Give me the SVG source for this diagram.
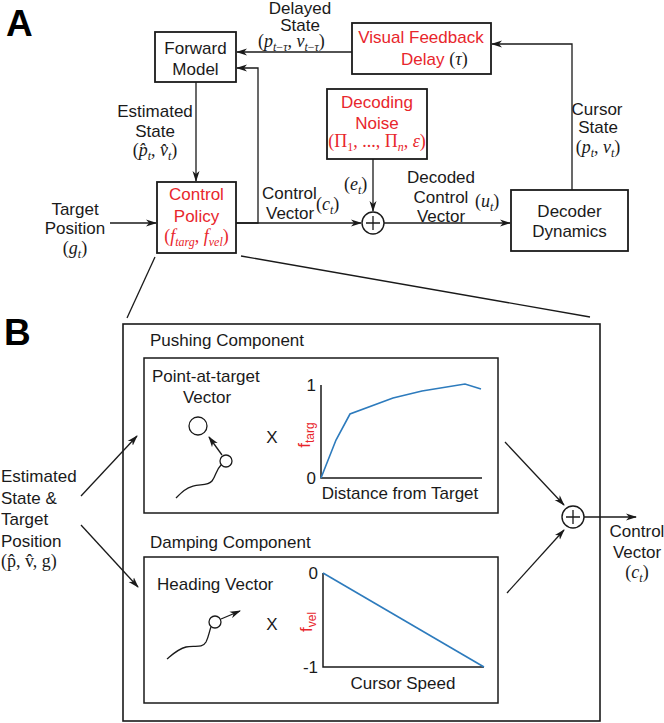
<svg xmlns="http://www.w3.org/2000/svg" width="664" height="723" viewBox="0 0 664 723">
<defs>
<style>
.t{font-family:"Liberation Sans",Arial,sans-serif;font-size:17px;fill:#1a1a1a}
.c{text-anchor:middle}
.r{fill:#e8262c}
.m{font-family:"Liberation Serif","Times New Roman",serif;font-size:18px;fill:#1a1a1a}
.i{font-style:italic}
.s{font-size:12px}
.big{font-family:"Liberation Sans",Arial,sans-serif;font-size:37px;font-weight:bold;fill:#000}
.box{fill:#fff;stroke:#1a1a1a;stroke-width:1.8}
.ln{fill:none;stroke:#1a1a1a;stroke-width:1.3}
.ax{fill:none;stroke:#1a1a1a;stroke-width:1.5}
.cv{fill:none;stroke:#2d7bbd;stroke-width:1.6}
</style>
<marker id="ah" markerWidth="11" markerHeight="8" refX="10" refY="4" orient="auto" markerUnits="userSpaceOnUse">
<path d="M0,0.5 L11,4 L0,7.5 L3,4 z" fill="#1a1a1a"/>
</marker>
</defs>
<rect width="664" height="723" fill="#fff"/>

<text class="big" x="6" y="36">A</text>
<text class="big" x="4" y="345">B</text>

<g id="connectors">
<path class="ln" d="M352,52 L237,52" marker-end="url(#ah)"/>
<path class="ln" d="M236,223 L258,223 L258,68 L237,68" marker-end="url(#ah)"/>
<path class="ln" d="M196,82 L196,181" marker-end="url(#ah)"/>
<path class="ln" d="M110,223 L156,223" marker-end="url(#ah)"/>
<path class="ln" d="M236,223 L361,223" marker-end="url(#ah)"/>
<path class="ln" d="M373,159 L373,211" marker-end="url(#ah)"/>
<path class="ln" d="M384,223 L510,223" marker-end="url(#ah)"/>
<path class="ln" d="M572,190 L572,44 L492,44" marker-end="url(#ah)"/>
<path class="ln" d="M155,257 L127,318"/>
<path class="ln" d="M241,256 L590,317"/>
<path class="ln" d="M81,496 L137,436" marker-end="url(#ah)"/>
<path class="ln" d="M81,525 L138,587" marker-end="url(#ah)"/>
<path class="ln" d="M505,442 L564,505" marker-end="url(#ah)"/>
<path class="ln" d="M507,593 L564,530" marker-end="url(#ah)"/>
<path class="ln" d="M584,517 L636,517" marker-end="url(#ah)"/>
</g>

<g id="label-delayed">
<text class="t c" x="300" y="14" font-size="16">Delayed</text>
<text class="t c" x="300" y="31" font-size="16">State</text>
<text class="m" x="258" y="47" font-size="17">(<tspan class="i">p</tspan><tspan class="i s" dy="4">t</tspan><tspan class="s">−</tspan><tspan class="i s">τ</tspan><tspan dy="-4">, </tspan><tspan class="i">v</tspan><tspan class="i s" dy="4">t</tspan><tspan class="s">−</tspan><tspan class="i s">τ</tspan><tspan dy="-4">)</tspan></text>
</g>

<g id="forward-model">
<rect class="box" x="155" y="32" width="81" height="50"/>
<text class="t c" x="195.5" y="54">Forward</text>
<text class="t c" x="195.5" y="75">Model</text>
</g>

<g id="visual-feedback-delay">
<rect class="box" x="352" y="23" width="139" height="51"/>
<text class="t c r" x="421" y="43">Visual Feedback</text>
<text class="t r" x="401" y="65">Delay <tspan class="m r">(</tspan><tspan class="m i r">τ</tspan><tspan class="m r">)</tspan></text>
</g>

<g id="label-estimated">
<text class="t c" x="155" y="117">Estimated</text>
<text class="t c" x="155" y="137">State</text>
<text class="m c" x="155" y="156">(<tspan class="i">p̂</tspan><tspan class="i s" dy="4">t</tspan><tspan dy="-4">, </tspan><tspan class="i">v̂</tspan><tspan class="i s" dy="4">t</tspan><tspan dy="-4">)</tspan></text>
</g>

<g id="decoding-noise">
<rect class="box" x="327" y="89" width="100" height="70"/>
<text class="t c r" x="377" y="108">Decoding</text>
<text class="t c r" x="377" y="129">Noise</text>
<text class="m c r" x="377" y="147"><tspan class="r">(Π</tspan><tspan class="s r" dy="4">1</tspan><tspan class="r" dy="-4">, ..., Π</tspan><tspan class="i s r" dy="4">n</tspan><tspan class="r" dy="-4">, </tspan><tspan class="i r">ε</tspan><tspan class="r">)</tspan></text>
</g>

<g id="label-cursor">
<text class="t c" x="597" y="115">Cursor</text>
<text class="t c" x="598" y="133">State</text>
<text class="m c" x="598" y="153">(<tspan class="i">p</tspan><tspan class="i s" dy="4">t</tspan><tspan dy="-4">, </tspan><tspan class="i">v</tspan><tspan class="i s" dy="4">t</tspan><tspan dy="-4">)</tspan></text>
</g>

<g id="label-target">
<text class="t c" x="75" y="215">Target</text>
<text class="t c" x="75" y="234">Position</text>
<text class="m c" x="75" y="254">(<tspan class="i">g</tspan><tspan class="i s" dy="4">t</tspan><tspan dy="-4">)</tspan></text>
</g>

<g id="control-policy">
<rect class="box" x="157" y="182" width="79" height="71"/>
<text class="t c r" x="196.5" y="200">Control</text>
<text class="t c r" x="196.5" y="222">Policy</text>
<text class="m c r" x="196.5" y="242" font-size="17"><tspan class="r">(</tspan><tspan class="i r">f</tspan><tspan class="i s r" dy="4">targ</tspan><tspan class="r" dy="-4">, </tspan><tspan class="i r">f</tspan><tspan class="i s r" dy="4">vel</tspan><tspan class="r" dy="-4">)</tspan></text>
</g>

<g id="label-control-vector">
<text class="t" x="262" y="199">Control</text>
<text class="t" x="266" y="219">Vector</text>
<text class="m" x="316" y="210">(<tspan class="i">c</tspan><tspan class="i s" dy="4">t</tspan><tspan dy="-4">)</tspan></text>
</g>

<g id="label-et">
<text class="m" x="344" y="190">(<tspan class="i">e</tspan><tspan class="i s" dy="4">t</tspan><tspan dy="-4">)</tspan></text>
</g>

<g id="sum-a">
<circle cx="373" cy="223" r="11" fill="#fff" stroke="#1a1a1a" stroke-width="1.4"/>
<path class="ln" d="M366,223 H380 M373,216 V230" stroke-width="1.6"/>
</g>

<g id="label-decoded">
<text class="t c" x="441" y="183">Decoded</text>
<text class="t c" x="441" y="203">Control</text>
<text class="t c" x="441" y="222">Vector</text>
<text class="m" x="475" y="207">(<tspan class="i">u</tspan><tspan class="i s" dy="4">t</tspan><tspan dy="-4">)</tspan></text>
</g>

<g id="decoder-dynamics">
<rect class="box" x="511" y="190" width="117" height="61"/>
<text class="t c" x="569.5" y="217">Decoder</text>
<text class="t c" x="569.5" y="237">Dynamics</text>
</g>

<g id="panel-b">
<rect x="123" y="324" width="477" height="397" fill="none" stroke="#1a1a1a" stroke-width="1.6"/>
</g>

<g id="label-estimated-b">
<text class="t" x="1" y="482">Estimated</text>
<text class="t" x="1" y="504">State &amp;</text>
<text class="t" x="1" y="525">Target</text>
<text class="t" x="1" y="547">Position</text>
<text class="m" x="1" y="567">(p̂, v̂, g)</text>
</g>

<g id="pushing-component">
<text class="t" x="150" y="346">Pushing Component</text>
<rect x="144" y="358" width="354" height="155" fill="none" stroke="#1a1a1a" stroke-width="1.5"/>
<text class="t" x="152" y="382">Point-at-target</text>
<text class="t c" x="207" y="403">Vector</text>
<circle cx="198" cy="426" r="9" fill="none" stroke="#1a1a1a" stroke-width="1.3"/>
<circle cx="226" cy="461" r="6" fill="none" stroke="#1a1a1a" stroke-width="1.3"/>
<path class="ln" d="M222,455 L209,437" marker-end="url(#ah)"/>
<path class="ln" d="M176,498 C182,492 186,488 193,486 C200,484 208,486 212,481 C216,476 216,470 221,465"/>
<text class="t c" x="272" y="443" font-size="18">X</text>
<path class="ax" d="M321,385 V478 H482"/>
<text class="t" x="316" y="391" text-anchor="end">1</text>
<text class="t" x="316" y="484" text-anchor="end">0</text>
<text class="t r" transform="translate(310,435) rotate(-90)" text-anchor="middle">f<tspan class="s r" dy="4">targ</tspan></text>
<polyline class="cv" points="321,478 336,440 350,414 393,398 422,391 465,384 481,389"/>
<text class="t c" x="400" y="499">Distance from Target</text>
</g>

<g id="damping-component">
<text class="t" x="150" y="548">Damping Component</text>
<rect x="144" y="557" width="354" height="146" fill="none" stroke="#1a1a1a" stroke-width="1.5"/>
<text class="t" x="157" y="590">Heading Vector</text>
<circle cx="215" cy="622" r="6" fill="none" stroke="#1a1a1a" stroke-width="1.3"/>
<path class="ln" d="M221,619 L240,611" marker-end="url(#ah)"/>
<path class="ln" d="M167,659 C173,654 178,649 186,647 C194,645 202,649 206,642 C209,636 209,632 211,627"/>
<text class="t c" x="272" y="630" font-size="18">X</text>
<path class="ax" d="M323,573 V667 H484"/>
<text class="t" x="318" y="579" text-anchor="end">0</text>
<text class="t" x="318" y="673" text-anchor="end">-1</text>
<text class="t r" transform="translate(312,622) rotate(-90)" text-anchor="middle">f<tspan class="s r" dy="4">vel</tspan></text>
<line class="cv" x1="323" y1="573" x2="484" y2="667"/>
<text class="t c" x="403" y="689">Cursor Speed</text>
</g>

<g id="sum-b">
<circle cx="573" cy="517" r="11" fill="#fff" stroke="#1a1a1a" stroke-width="1.4"/>
<path class="ln" d="M566,517 H580 M573,510 V524" stroke-width="1.6"/>
</g>

<g id="label-control-vector-b">
<text class="t c" x="637" y="537">Control</text>
<text class="t c" x="637" y="558">Vector</text>
<text class="m c" x="637" y="578">(<tspan class="i">c</tspan><tspan class="i s" dy="4">t</tspan><tspan dy="-4">)</tspan></text>
</g>
</svg>
